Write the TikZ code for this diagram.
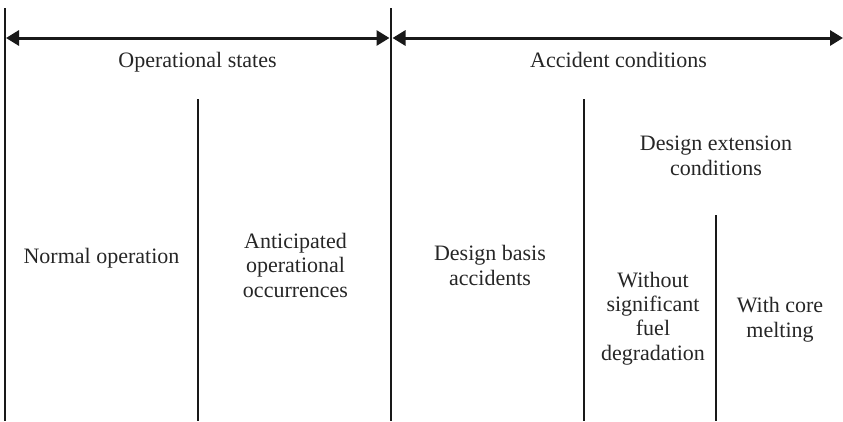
\documentclass[tikz,border=0pt]{standalone}
\usepackage{fontspec}
\setmainfont{Liberation Serif}
\usetikzlibrary{arrows.meta}
\tikzset{
  divider/.style={line width=2pt, black!90},
  span/.style={line width=3pt, black!90, {Triangle[length=13pt,width=15pt]}-{Triangle[length=13pt,width=15pt]}},
  lbl/.style={inner sep=0pt, align=center, text=black!85, font=\fontsize{22}{24.3}\selectfont},
}
\begin{document}
\begin{tikzpicture}[x=1pt,y=-1pt]
\useasboundingbox (0,0) rectangle (843,421);
% dividers
\coordinate (d0t) at (5,8);    \coordinate (d0b) at (5,421);
\coordinate (d1t) at (391,8);  \coordinate (d1b) at (391,421);
\coordinate (d2t) at (197.5,99); \coordinate (d2b) at (197.5,421);
\coordinate (d3t) at (584,99); \coordinate (d3b) at (584,421);
\coordinate (d4t) at (716,215); \coordinate (d4b) at (716,421);
\draw[divider] (d0t) -- (d0b);
\draw[divider] (d1t) -- (d1b);
\draw[divider] (d2t) -- (d2b);
\draw[divider] (d3t) -- (d3b);
\draw[divider] (d4t) -- (d4b);
% spans
\coordinate (a0) at (6,38);
\coordinate (a1) at (389.5,38);
\coordinate (a2) at (392.5,38);
\coordinate (a3) at (843,38);
\draw[span] (a0) -- (a1);
\draw[span] (a2) -- (a3);
% labels (base anchor = baseline of last line)
\node[lbl, anchor=base] (ops) at (197.5,67) {Operational states};
\node[lbl, anchor=base] (acc) at (618.5,67) {Accident conditions};
\node[lbl, anchor=base] (norm) at (101.5,263) {Normal operation};
\node[lbl, anchor=base] (aoo) at (295.5,297) {Anticipated\\operational\\occurrences};
\node[lbl, anchor=base] (dba) at (490,285) {Design basis\\accidents};
\node[lbl, anchor=base] (dec) at (716,175) {Design extension\\conditions};
\node[lbl, anchor=base] (wsf) at (653,360) {Without\\significant\\fuel\\degradation};
\node[lbl, anchor=base] (wcm) at (780,337) {With core\\melting};
\end{tikzpicture}
\end{document}
